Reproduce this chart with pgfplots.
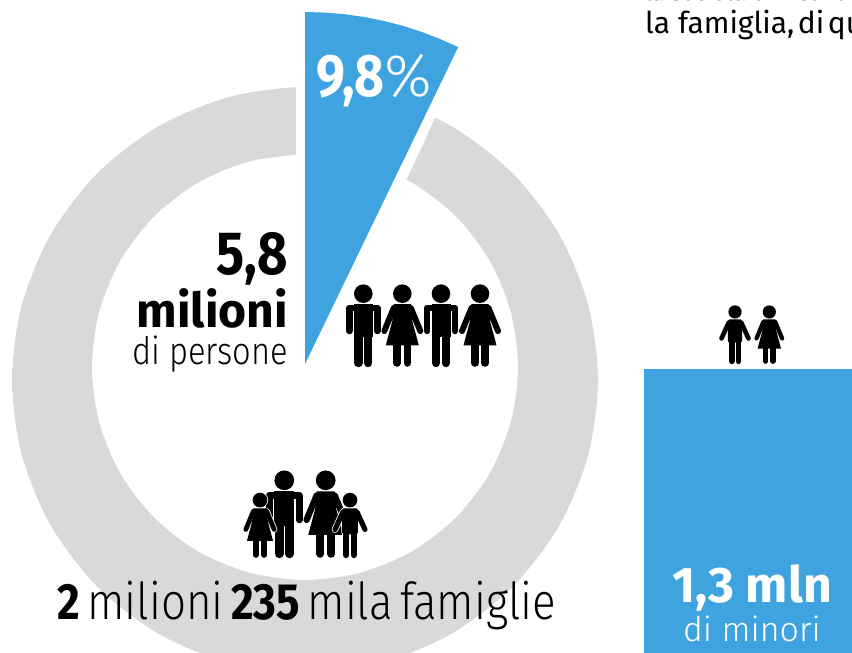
\documentclass[border=0pt]{standalone}
\usepackage{fontspec}
\usepackage{pgfplots}
\pgfplotsset{compat=1.18}
\setmainfont{Fira Sans}[FakeStretch=0.86]
\newfontfamily\lightf{Fira Sans Light}[FakeStretch=0.86]
\newfontfamily\lightw{Fira Sans Light}
\newfontfamily\widef{Fira Sans}
\definecolor{blu}{HTML}{3EA3DE}
\definecolor{grigio}{HTML}{D9D9D9}

% pictograms: origin between the feet, units in px, #1 x, #2 y (from bottom), #3 scale
\newcommand{\manshape}[3]{%
  \fill[#1] (0,73.3) circle ({9.3+#2});
  \draw[#1,line width=#3*(6.5+2*#2)*1pt,line cap=round,line join=round] (-14,36)--(-14,59)--(14,59)--(14,36);
  \fill[#1] (-9.5-#2,62.8+#2) rectangle (9.5+#2,30);
  \draw[#1,line width=#3*(8.4+2*#2)*1pt,line cap=round] (-4.9,4)--(-4.9,32) (4.9,4)--(4.9,32);
}
\newcommand{\boyshape}[3]{%
  \fill[#1] (0,73.3) circle ({9.3+#2});
  \draw[#1,line width=#3*(6.5+2*#2)*1pt,line cap=round] (-9,58)--(-19,36) (9,58)--(19,36);
  \fill[#1,rounded corners=1.5] (-10-#2,62.8+#2) rectangle (10+#2,30);
  \draw[#1,line width=#3*(8.4+2*#2)*1pt,line cap=round] (-4.9,4)--(-4.9,32) (4.9,4)--(4.9,32);
}
\newcommand{\womanshape}[3]{%
  \fill[#1] (0,73.3) circle ({9.3+#2});
  \draw[#1,line width=#3*(6+2*#2)*1pt,line cap=round] (-8.5,59)--(-18,36) (8.5,59)--(18,36);
  \fill[#1,line join=round] (-8.5,62.8)--(8.5,62.8)--(10,46)--(16.5,21.7)--(-16.5,21.7)--(-10,46)--cycle;
  \draw[#1,line width=#3*(7.6+2*#2)*1pt,line cap=round] (-5.2,4)--(-5.2,24) (5.2,4)--(5.2,24);
}
\newcommand{\man}[3]{\begin{scope}[shift={(#1pt,#2pt)},x=#3pt,y=#3pt]\manshape{black}{0}{#3}\end{scope}}
\newcommand{\woman}[3]{\begin{scope}[shift={(#1pt,#2pt)},x=#3pt,y=#3pt]\womanshape{black}{0}{#3}\end{scope}}
\newcommand{\boy}[3]{\begin{scope}[shift={(#1pt,#2pt)},x=#3pt,y=#3pt]\boyshape{white}{1}{#3}\boyshape{black}{0}{#3}\end{scope}}
\newcommand{\girl}[3]{\begin{scope}[shift={(#1pt,#2pt)},x=#3pt,y=#3pt]\womanshape{white}{1}{#3}\womanshape{black}{0}{#3}\end{scope}}

\begin{document}
\begin{tikzpicture}
\clip (0,0) rectangle (852pt,653pt);
\begin{axis}[
  at={(0,0)},anchor=south west,
  width=852pt,height=653pt,scale only axis,
  xmin=0,xmax=852,ymin=0,ymax=653,
  hide axis,clip mode=individual]

% ring, outer edge
\addplot[smooth,fill=grigio,draw=none] coordinates {
  (305,-20) (380.8,-10) (451.5,19.3) (512.2,65.8) (558.7,126.5) (588,197.2)
  (598,273) (588,348.8) (558.7,419.5) (512.2,480.2) (451.5,526.7) (380.8,556)
  (305,566) (229.2,556) (158.5,526.7) (97.8,480.2) (51.3,419.5) (22,348.8)
  (12,273) (22,197.2) (51.3,126.5) (97.8,65.8) (158.5,19.3) (229.2,-10) (305,-20)
} -- cycle;
% ring, inner edge
\addplot[smooth,fill=white,draw=none] coordinates {
  (305,499) (249.9,491.7) (198.5,470.5) (154.4,436.6) (120.5,392.5) (99.3,341.1)
  (92,286) (99.3,230.9) (120.5,179.5) (154.4,135.4) (198.5,101.5) (249.9,80.3)
  (305,73) (360.1,80.3) (411.5,101.5) (455.6,135.4) (489.5,179.5) (510.7,230.9)
  (518,286) (510.7,341.1) (489.5,392.5) (455.6,436.6) (411.5,470.5) (360.1,491.7) (305,499)
} -- cycle;
% gap left by the slice
\addplot[fill=white,draw=none] coordinates {(296,593) (296,453) (397,453) (462,593)} -- cycle;
% 9,8% slice
\addplot[fill=blu,draw=none] coordinates {
  (305,289) (305,641) (324.8,640.4) (344.5,638.8) (364.2,636) (383.6,632.1)
  (402.7,627.2) (421.6,621.1) (440.1,614) (458.2,605.9)
} -- cycle;
% minors bar
\addplot[fill=blu,draw=none] coordinates {(644,0) (644,284) (852,284) (852,0)} -- cycle;

\node[anchor=base west,text=white,font=\fontsize{60}{60}\selectfont,inner sep=0pt] at (axis cs:316,556) {\textbf{9,8}{\lightw\%}};
\node[anchor=base east,font=\fontsize{61}{61}\selectfont\bfseries,inner sep=0pt] at (axis cs:288,378) {5,8};
\node[anchor=base east,font=\fontsize{48}{48}\selectfont\widef\bfseries,inner sep=0pt] at (axis cs:288,325) {milioni};
\node[anchor=base east,font=\fontsize{38}{38}\selectfont\lightf,inner sep=0pt] at (axis cs:288,288) {di persone};
\node[anchor=base west,font=\fontsize{51}{51}\selectfont,inner sep=0pt] at (axis cs:57,33) {\textbf{2}\hspace{.15em}{\lightf milioni}\hspace{.15em}\textbf{235}\hspace{.15em}{\lightf mila\hspace{.15em}famiglie}};
\node[anchor=base,text=white,font=\fontsize{50}{50}\selectfont\widef\bfseries,inner sep=0pt] at (axis cs:752,50) {1,3 mln};
\node[anchor=base,text=white,font=\fontsize{34}{34}\selectfont\lightw,inner sep=0pt] at (axis cs:752,11) {di minori};
\node[anchor=base west,font=\fontsize{30}{30}\selectfont\widef,inner sep=0pt] at (axis cs:645,619) {la famiglia,\hspace{.12em}di\hspace{.12em}questi};
\node[anchor=base west,font=\fontsize{27}{27}\selectfont,inner sep=0pt] at (axis cs:645,652) {la società e in condizioni};
\end{axis}

% four adults
\man{363.3}{286}{1}
\woman{402.3}{286}{1}
\man{441}{286}{1}
\woman{480}{286}{1}
% family
\man{284.3}{95}{1.06}
\woman{325.7}{95}{1.06}
\girl{260}{95}{0.79}
\boy{350}{95}{0.79}
% two children
\boy{735}{289}{0.71}
\girl{769.3}{289}{0.71}
\end{tikzpicture}
\end{document}
